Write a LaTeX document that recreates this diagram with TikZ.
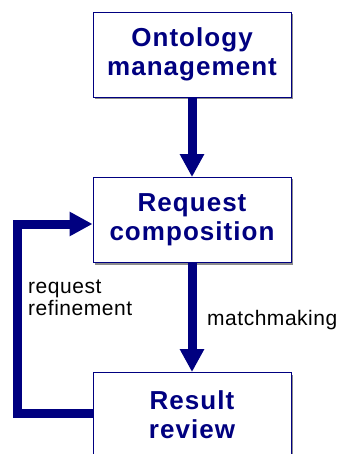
\documentclass[tikz,border=0pt]{standalone}
\usepackage{fontspec}
\setmainfont{Liberation Sans}
\newfontfamily\boxfont{Liberation Sans}[LetterSpace=4]
\newfontfamily\lblfont{Liberation Sans}[LetterSpace=2.5]
\usetikzlibrary{arrows.meta,shadows}
\definecolor{navy}{RGB}{0,0,128}
\tikzset{
  x=1pt,y=1pt,
  box/.style={draw=navy, line width=0.9pt, fill=white, minimum width=198pt, minimum height=85pt,
    inner sep=0pt, align=center, text=navy, font=\boxfont\fontsize{26}{29}\selectfont\bfseries,
    drop shadow={shadow xshift=2pt, shadow yshift=-2pt, fill=black!45, opacity=1}},
  flow/.style={draw=navy, line width=9pt, -{Triangle[width=23pt,length=23pt]}},
  lbl/.style={font=\lblfont\fontsize{21}{22}\selectfont, align=left, inner sep=0pt}
}
\begin{document}
\begin{tikzpicture}
\clip (0,0) rectangle (337,-454);
\useasboundingbox (0,0) rectangle (337,-454);
\node[box] (onto) at (192,-54.5) {Ontology\\management};
\node[box] (req) at (192,-220) {Request\\composition};
\node[box] (res) at (192,-415) {Result\\review};
\draw[flow] (onto.south) -- (req.north);
\draw[flow] (req.south) -- (res.north);
\coordinate (c1) at (17,-413);
\coordinate (c2) at (17,-224);
\draw[flow, line join=miter] ([yshift=2pt]res.west) -- (c1) -- (c2) -- (req.west |- c2);
\node[lbl, anchor=base west] (refine) at (28,-315) {request\\refinement};
\node[lbl, anchor=base west] (match) at (207,-325) {matchmaking};
\end{tikzpicture}
\end{document}
